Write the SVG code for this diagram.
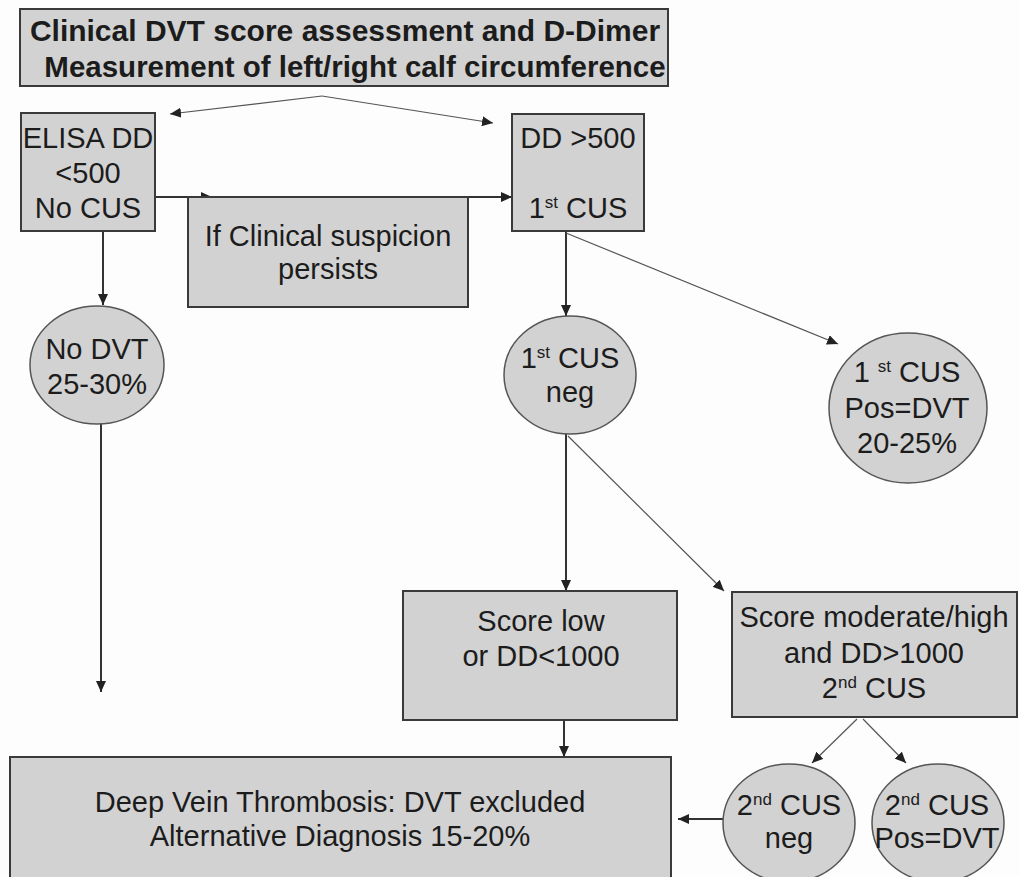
<svg xmlns="http://www.w3.org/2000/svg" width="1019" height="877" viewBox="0 0 1019 877">
<style>
.box{fill:#d2d2d2;stroke:#3a3a3a;stroke-width:2}
.ell{fill:#d2d2d2;stroke:#555;stroke-width:1.5}
text{font-family:"Liberation Sans",Arial,sans-serif;font-size:29px;fill:#1c1c1c;text-anchor:middle}
.title{font-weight:bold;font-size:30px}
.sup{font-size:17px}
.c{stroke:#333;stroke-width:2;fill:none;marker-end:url(#ah)}
.t{stroke:#555;stroke-width:1.2;fill:none;marker-end:url(#ah)}
</style>
<defs>
<marker id="ah" markerUnits="userSpaceOnUse" markerWidth="12" markerHeight="10" refX="11" refY="5" orient="auto">
<path d="M0,0 L11,5 L0,10 Z" fill="#222"/>
</marker>
</defs>
<rect width="1019" height="877" fill="#fdfdfd"/>
<g id="connectors">
<polyline class="t" points="322,96 170,114"/>
<polyline class="t" points="322,96 493,123"/>
<line class="c" x1="155" y1="197" x2="212" y2="197"/>
<line class="c" x1="208" y1="197" x2="512" y2="197"/>
<line class="c" x1="103" y1="231" x2="103" y2="305"/>
<line class="c" x1="101" y1="412" x2="101" y2="692"/>
<line class="c" x1="566" y1="232" x2="566" y2="316"/>
<line class="t" x1="566" y1="233" x2="838" y2="344"/>
<line class="c" x1="566" y1="434" x2="566" y2="591"/>
<line class="t" x1="568" y1="436" x2="724" y2="591"/>
<line class="c" x1="564" y1="720" x2="564" y2="757"/>
<line class="t" x1="857" y1="719" x2="812" y2="763"/>
<line class="t" x1="863" y1="719" x2="906" y2="763"/>
<line class="c" x1="723" y1="819" x2="678" y2="819"/>
</g>
<g id="top">
<rect class="box" x="20" y="9" width="648" height="77"/>
<text class="title" x="345" y="41">Clinical DVT score assessment and D-Dimer</text>
<text class="title" x="355" y="77" style="font-size:29.5px">Measurement of left/right calf circumference</text>
</g>
<g id="elisa">
<rect class="box" x="21" y="113" width="134" height="118"/>
<text x="88" y="148">ELISA DD</text>
<text x="88" y="183">&lt;500</text>
<text x="88" y="218">No CUS</text>
</g>
<g id="dd500">
<rect class="box" x="512" y="114" width="132" height="117"/>
<text x="578" y="148">DD &gt;500</text>
<text x="578" y="218">1<tspan class="sup" dy="-10">st</tspan><tspan dy="10"> CUS</tspan></text>
</g>
<g id="suspicion">
<rect class="box" x="188" y="197" width="280" height="110"/>
<text x="328" y="246">If Clinical suspicion</text>
<text x="328" y="279">persists</text>
</g>
<g id="nodvt">
<ellipse class="ell" cx="97" cy="365" rx="67" ry="59"/>
<text x="97" y="359">No DVT</text>
<text x="97" y="394">25-30%</text>
</g>
<g id="cus1neg">
<ellipse class="ell" cx="570" cy="375" rx="66" ry="59"/>
<text x="570" y="368">1<tspan class="sup" dy="-10">st</tspan><tspan dy="10"> CUS</tspan></text>
<text x="570" y="402">neg</text>
</g>
<g id="cus1pos">
<ellipse class="ell" cx="908" cy="408" rx="79" ry="75"/>
<text x="907" y="382">1 <tspan class="sup" dy="-10">st</tspan><tspan dy="10"> CUS</tspan></text>
<text x="907" y="418">Pos=DVT</text>
<text x="907" y="453">20-25%</text>
</g>
<g id="scorelow">
<rect class="box" x="403" y="591" width="274" height="129"/>
<text x="541" y="631">Score low</text>
<text x="541" y="666">or DD&lt;1000</text>
</g>
<g id="scorehigh">
<rect class="box" x="732" y="592" width="285" height="125"/>
<text x="874" y="627">Score moderate/high</text>
<text x="874" y="663">and DD&gt;1000</text>
<text x="874" y="698">2<tspan class="sup" dy="-10">nd</tspan><tspan dy="10"> CUS</tspan></text>
</g>
<g id="excluded">
<rect class="box" x="10" y="757" width="661" height="130"/>
<text x="340" y="812">Deep Vein Thrombosis: DVT excluded</text>
<text x="340" y="846">Alternative Diagnosis 15-20%</text>
</g>
<g id="cus2neg">
<ellipse class="ell" cx="789" cy="823" rx="66" ry="59"/>
<text x="789" y="815">2<tspan class="sup" dy="-10">nd</tspan><tspan dy="10"> CUS</tspan></text>
<text x="789" y="848">neg</text>
</g>
<g id="cus2pos">
<ellipse class="ell" cx="938" cy="823" rx="66" ry="59"/>
<text x="937" y="815">2<tspan class="sup" dy="-10">nd</tspan><tspan dy="10"> CUS</tspan></text>
<text x="937" y="848">Pos=DVT</text>
</g>
</svg>
